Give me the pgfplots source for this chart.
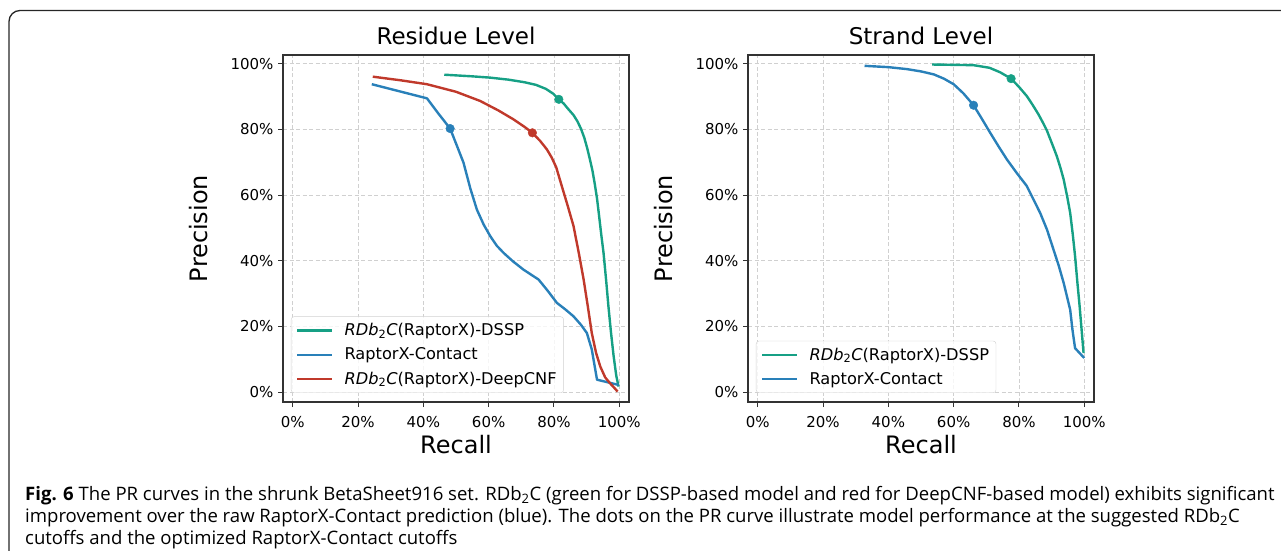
\documentclass[border=0pt]{standalone}
\usepackage{fontspec}
\setmainfont{DejaVu Sans}
\newfontfamily\capfont{Open Sans}
\usepackage{pgfplots}
\pgfplotsset{compat=1.18}

\definecolor{cgreen}{HTML}{16A085}
\definecolor{cblue}{HTML}{2980B9}
\definecolor{cred}{HTML}{C0392B}
\definecolor{cgrid}{HTML}{D0D0D0}
\definecolor{cframe}{HTML}{333333}

\pgfplotsset{
  prpanel/.style={
    scale only axis, width=346pt, height=347pt,
    xmin=-3, xmax=103, ymin=-3, ymax=102.7,
    axis line style={cframe, line width=1.3pt},
    tick align=outside, major tick length=5pt,
    tick style={cframe, line width=1pt},
    xtick={0,20,40,60,80,100}, ytick={0,20,40,60,80,100},
    xticklabels={0\%,20\%,40\%,60\%,80\%,100\%},
    yticklabels={0\%,20\%,40\%,60\%,80\%,100\%},
    ticklabel style={font=\fontsize{15}{18}\selectfont},
    xticklabel style={yshift=-6pt},
    yticklabel style={xshift=-1pt},
    xtick pos=bottom, ytick pos=left,
    grid=major, grid style={cgrid, line width=0.8pt, dash pattern=on 4pt off 2.5pt},
    title style={at={(0.5,1)}, anchor=base, yshift=5pt, font=\fontsize{23}{26}\selectfont},
    xlabel={Recall}, ylabel={Precision},
    label style={font=\fontsize{24}{28}\selectfont},
    xlabel style={at={(0.5,0)}, anchor=base, yshift=-51pt},
    ylabel style={at={(0,0.5)}, anchor=base, rotate=0, yshift=76pt},
    legend cell align=left,
    legend image code/.code={\draw[#1] (0pt,0pt) -- (35pt,0pt);},
    legend style={at={(0.023,0.026)}, anchor=south west,
      font=\fontsize{16.2}{19}\selectfont,
      draw=black!18, rounded corners=3pt, fill=white, fill opacity=0.8, text opacity=1,
      inner xsep=5pt, inner ysep=5pt, row sep=6.5pt,
      /tikz/every odd column/.append style={column sep=9pt}},
  },
  curve/.style={line width=2.4pt, line join=round},
  dot/.style={only marks, mark=*, mark size=4.3pt, forget plot},
}

\pgfplotstableread{
r p
46.4 96.7
55 96.2
60.5 95.8
66 95.2
71 94.4
74.5 93.6
77.5 92.4
79.8 90.9
81.5 89.2
83 87.9
84.5 86.1
86 84.4
87.2 82.5
88.3 80.2
89.3 77.5
90.2 74.3
91 71
91.8 67.5
92.5 63.5
93.2 59
93.8 54
94.5 48
95.2 42.4
96 34
96.7 26.1
97.5 18
98.3 10.9
99.1 5
99.8 1.7
}\resdssp

\pgfplotstableread{
r p
24.2 93.8
41.1 89.5
44.5 85
48.2 80.3
50.3 75
52.3 69.9
54.4 62
56.4 55.6
58.5 51
60.5 47.5
62.5 44.6
64.6 42.4
67.5 39.8
70.7 37.3
75.3 34.3
78 31
80.9 27.2
83.5 25.2
86 23.1
88.3 20.5
90.1 18
91.6 13
93.2 3.8
99.8 2.2
}\rescontact

\pgfplotstableread{
r p
24.5 96.1
33 95
41.1 93.8
50 91.5
57.4 88.7
63 85.8
67.6 83.1
71 80.8
73.4 79
75.8 76.5
77.8 74
79.3 71.5
80.7 68.5
82.4 62.8
84.3 56.5
86 50.6
87.6 42.5
89.1 34.3
90.4 26
91.6 18
92.9 12
94.2 7.8
95.7 4.5
97.2 2.7
98.5 1.3
99.5 0.2
}\resdeepcnf

\pgfplotstableread{
r p
53.4 99.8
60 99.7
66.1 99.6
71 98.8
74.3 97.4
77.6 95.5
80 93
82.4 90.2
84.2 87.5
86 84.6
87.4 82
88.6 79.6
90.1 75.8
91.6 71.9
92.7 68.4
93.7 64.8
94.8 59.5
95.7 54.6
96.5 48
97.2 41.4
97.9 33.5
98.6 26.1
99.2 19
99.8 11.9
}\strdssp

\pgfplotstableread{
r p
32.7 99.4
40 99
45.7 98.4
50 97.7
53.9 96.8
57 95.5
60 93.8
63 91
66.1 87.4
68.5 83.5
71.2 79
73.8 74.8
76.3 70.9
79.3 66.8
82.4 62.8
84.4 58.8
86.5 54.6
88.6 49.5
90.6 43.4
92.2 38.5
93.7 33.3
94.8 28.8
95.7 25.1
96.4 19
97.2 13.4
100 10.4
}\strcontact

\begin{document}
\begin{tikzpicture}
\path[use as bounding box] (0,0) rectangle (1281pt,550pt);

% frame around figure and caption
\draw[black!85, line width=1.3pt, rounded corners=11pt]
  (9pt,-10pt) -- (9pt,539.5pt) -- (1300pt,539.5pt);

% Residue level
\begin{axis}[prpanel, at={(283pt,148pt)}, anchor=south west, title={Residue Level}]
\addplot[curve, cgreen] table[x=r,y=p] {\resdssp};
\addlegendentry{\textit{RDb}\textsubscript{2}\textit{C}(RaptorX)-DSSP}
\addplot[curve, cblue] table[x=r,y=p] {\rescontact};
\addlegendentry{RaptorX-Contact}
\addplot[curve, cred] table[x=r,y=p] {\resdeepcnf};
\addlegendentry{\textit{RDb}\textsubscript{2}\textit{C}(RaptorX)-DeepCNF}
\addplot[dot, cgreen] coordinates {(81.5,89.2)};
\addplot[dot, cblue] coordinates {(48.2,80.3)};
\addplot[dot, cred] coordinates {(73.4,79)};
\end{axis}

% Strand level
\begin{axis}[prpanel, at={(748pt,148pt)}, anchor=south west, title={Strand Level}]
\addplot[curve, cgreen] table[x=r,y=p] {\strdssp};
\addlegendentry{\textit{RDb}\textsubscript{2}\textit{C}(RaptorX)-DSSP}
\addplot[curve, cblue] table[x=r,y=p] {\strcontact};
\addlegendentry{RaptorX-Contact}
\addplot[dot, cgreen] coordinates {(77.6,95.5)};
\addplot[dot, cblue] coordinates {(66.1,87.4)};
\end{axis}

% caption
\begin{scope}[every node/.style={anchor=base west, inner sep=0pt, font=\capfont\fontsize{18.55}{22}\selectfont}]
\node at (25pt,50pt) {\textbf{Fig. 6} The PR curves in the shrunk BetaSheet916 set. RDb\textsubscript{2}C (green for DSSP-based model and red for DeepCNF-based model) exhibits significant};
\node at (25pt,27.5pt) {improvement over the raw RaptorX-Contact prediction (blue). The dots on the PR curve illustrate model performance at the suggested RDb\textsubscript{2}C};
\node at (25pt,5.5pt) {cutoffs and the optimized RaptorX-Contact cutoffs};
\end{scope}
\end{tikzpicture}
\end{document}
